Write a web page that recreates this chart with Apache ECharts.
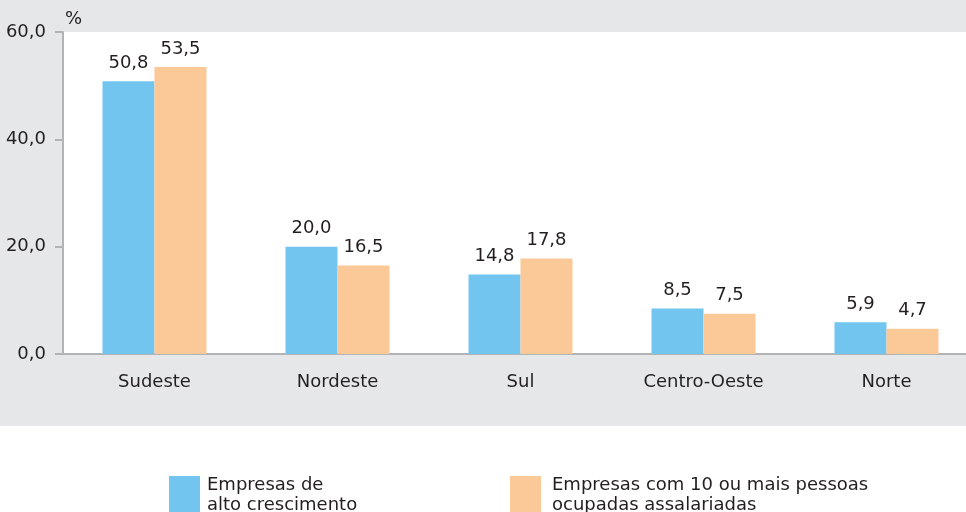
<!DOCTYPE html>
<html>
<head>
<meta charset="utf-8">
<script src="https://cdn.jsdelivr.net/npm/echarts@6/dist/echarts.min.js"></script>
<style>
  html, body { margin: 0; padding: 0; background: #fff; }
  #chart { width: 966px; height: 512px; }
</style>
</head>
<body>
<div id="chart"></div>
<script>
// dados
var regioes = ["Sudeste", "Nordeste", "Sul", "Centro-Oeste", "Norte"];
var altoCrescimento = [50.8, 20.0, 14.8, 8.5, 5.9];
var dezOuMais = [53.5, 16.5, 17.8, 7.5, 4.7];
var nomeSerie1 = "Empresas de\nalto crescimento";
var nomeSerie2 = "Empresas com 10 ou mais pessoas\nocupadas assalariadas";

var fonte = "'DejaVu Sans', Verdana, sans-serif";
var corTexto = "#231f20";
var tam = 18;

function virgula(v) {
    return v.toFixed(1).replace(".", ",");
}

var chart = echarts.init(document.getElementById("chart"), null, { renderer: "canvas" });

var option = {
    animation: false,
    backgroundColor: "#ffffff",
    textStyle: { fontFamily: fonte, color: corTexto },
    graphic: [{
        type: "rect",
        z: -10,
        silent: true,
        shape: { x: 0, y: 0, width: 966, height: 426 },
        style: { fill: "#e6e7e9" }
    }],
    // o gráfico continua além da borda direita
    grid: {
        left: 63, top: 32, width: 915, bottom: 158,
        outerBoundsMode: "none",
        containLabel: false,
        show: true, backgroundColor: "#ffffff", borderWidth: 0
    },
    legend: [{
        data: [nomeSerie1],
        left: 169, top: 475, padding: 0,
        itemWidth: 31, itemHeight: 38, itemGap: 0,
        icon: "rect",
        textStyle: { fontFamily: fonte, fontSize: tam, lineHeight: 20, color: corTexto, padding: [0, 0, 0, 2] }
    }, {
        data: [nomeSerie2],
        left: 510, top: 475, padding: 0,
        itemWidth: 31, itemHeight: 38, itemGap: 0,
        icon: "rect",
        textStyle: { fontFamily: fonte, fontSize: tam, lineHeight: 20, color: corTexto, padding: [0, 0, 0, 6] }
    }],
    xAxis: {
        type: "category",
        data: regioes,
        axisLine: { lineStyle: { color: "#b1b3b6", width: 2 } },
        axisTick: { show: false },
        axisLabel: { fontFamily: fonte, fontSize: tam, color: corTexto, margin: 19 }
    },
    yAxis: {
        type: "value",
        min: 0, max: 60, interval: 20,
        name: "%",
        nameLocation: "end",
        nameGap: 4,
        nameTextStyle: { fontFamily: fonte, fontSize: tam, color: corTexto, align: "left", padding: [0, 0, 0, 2] },
        axisLine: { show: true, lineStyle: { color: "#b1b3b6", width: 2 } },
        axisTick: { show: true, length: 8, lineStyle: { color: "#b1b3b6", width: 2 } },
        splitLine: { show: false },
        axisLabel: {
            fontFamily: fonte, fontSize: tam, color: corTexto, margin: 17,
            formatter: function (v) { return virgula(v); }
        }
    },
    series: [{
        name: nomeSerie1,
        type: "bar",
        data: altoCrescimento,
        barWidth: 52,
        barGap: 0,
        itemStyle: { color: "#72c5ef" },
        label: {
            show: true, position: "top", distance: 9,
            fontFamily: fonte, fontSize: tam, color: corTexto,
            formatter: function (p) { return virgula(p.value); }
        }
    }, {
        name: nomeSerie2,
        type: "bar",
        data: dezOuMais,
        barWidth: 52,
        barGap: 0,
        itemStyle: { color: "#fbc898" },
        label: {
            show: true, position: "top", distance: 9,
            fontFamily: fonte, fontSize: tam, color: corTexto,
            formatter: function (p) { return virgula(p.value); }
        }
    }]
};

chart.setOption(option);
</script>
</body>
</html>
